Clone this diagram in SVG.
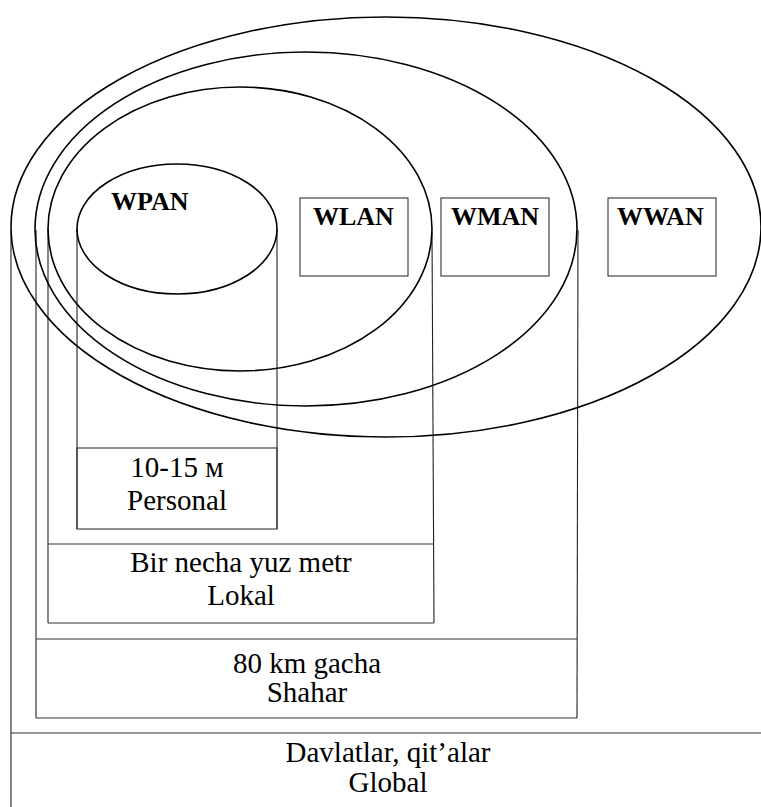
<svg xmlns="http://www.w3.org/2000/svg" width="761" height="807" viewBox="0 0 761 807">
<style>
.ell{fill:none;stroke:#000;stroke-width:1.6}
.ln{fill:none;stroke:#222;stroke-width:1.1}
.box{fill:none;stroke:#333;stroke-width:1.1}
text{font-family:'Times New Roman','Liberation Serif','DejaVu Serif',serif;fill:#000}
.t{font-size:29px;text-anchor:middle}
.b{font-size:26px;font-weight:bold}
</style>
<rect width="761" height="807" fill="#fff"/>
<g id="connectors">
<line class="ln" x1="11" y1="230" x2="11" y2="807"/>
<line class="ln" x1="36" y1="230" x2="36" y2="718"/>
<line class="ln" x1="578" y1="230" x2="577" y2="718"/>
<line class="ln" x1="48" y1="229" x2="48" y2="623"/>
<line class="ln" x1="432" y1="232" x2="434" y2="623"/>
<line class="ln" x1="77" y1="229" x2="77" y2="529"/>
<line class="ln" x1="277" y1="229" x2="277" y2="529"/>
</g>
<g id="wwan">
<ellipse class="ell" cx="386" cy="227" rx="375" ry="210"/>
<rect class="box" x="608" y="198" width="108" height="78"/>
<text class="b" x="617" y="225">WWAN</text>
<line class="box" x1="11" y1="733" x2="761" y2="733"/>
<text class="t" x="388" y="762">Davlatlar, qit’alar</text>
<text class="t" x="388" y="792">Global</text>
</g>
<g id="wman">
<ellipse class="ell" cx="306" cy="229" rx="271" ry="177"/>
<rect class="box" x="441" y="198" width="108" height="78"/>
<text class="b" x="451" y="225">WMAN</text>
<line class="box" x1="36" y1="639" x2="577" y2="639"/>
<line class="box" x1="36" y1="718" x2="577" y2="718"/>
<text class="t" x="307" y="673">80 km gacha</text>
<text class="t" x="307" y="702">Shahar</text>
</g>
<g id="wlan">
<ellipse class="ell" cx="240" cy="229" rx="192" ry="142"/>
<rect class="box" x="300" y="198" width="108" height="78"/>
<text class="b" x="313" y="225">WLAN</text>
<line class="box" x1="48" y1="544" x2="434" y2="544"/>
<line class="box" x1="48" y1="623" x2="434" y2="623"/>
<text class="t" x="241" y="572">Bir necha yuz metr</text>
<text class="t" x="241" y="605">Lokal</text>
</g>
<g id="wpan">
<ellipse class="ell" cx="177" cy="229" rx="100" ry="65"/>
<text class="b" x="111" y="210">WPAN</text>
<rect class="box" x="77" y="448" width="200" height="81"/>
<text class="t" x="177" y="477">10-15 м</text>
<text class="t" x="177" y="510">Personal</text>
</g>
</svg>
